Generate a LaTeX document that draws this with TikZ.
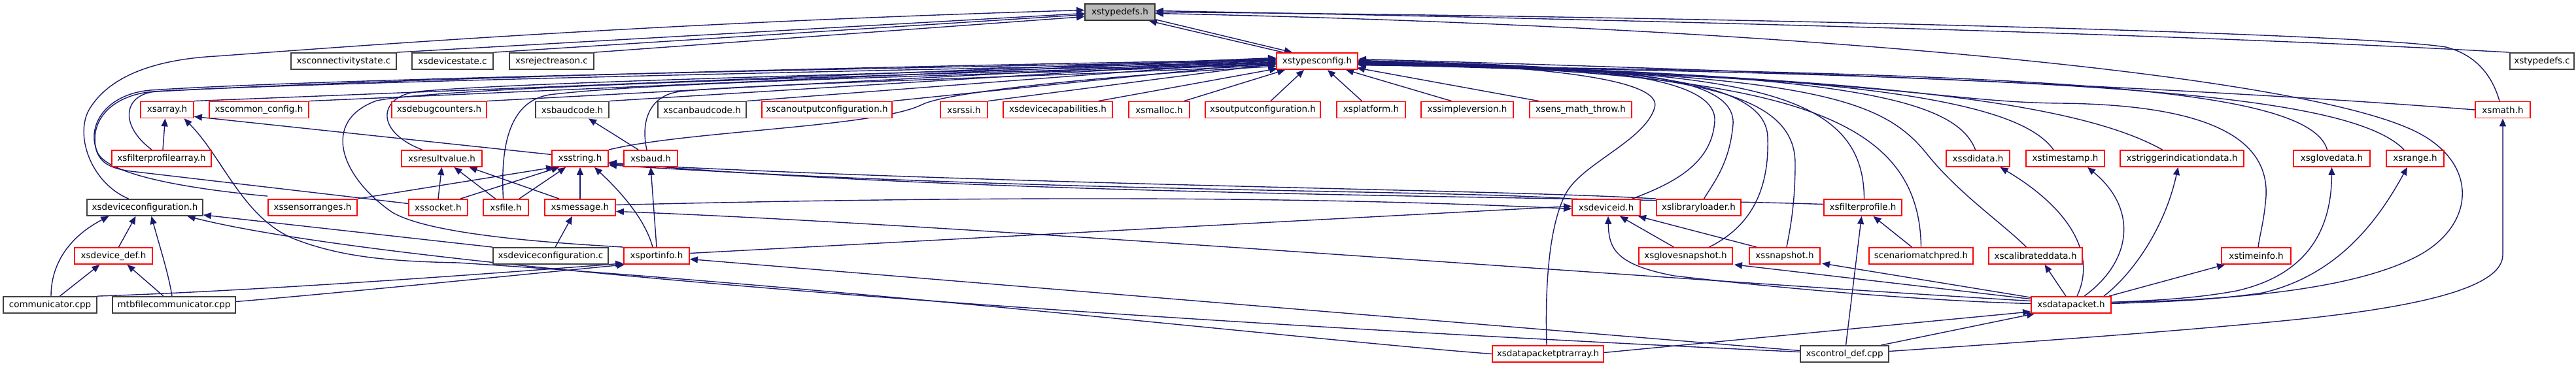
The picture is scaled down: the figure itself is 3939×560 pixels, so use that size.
\documentclass[tikz,border=0pt]{standalone}
\usepackage{fontspec}
\setmainfont{DejaVu Sans}
\usetikzlibrary{arrows.meta}
\definecolor{edgeblue}{HTML}{191970}
\definecolor{boxred}{HTML}{FF0000}
\newcommand\nodefont{\fontsize{6.75pt}{8pt}\selectfont}
\pgfdeclarelayer{bglayer}
\pgfdeclarelayer{edgelayer}
\pgfsetlayers{bglayer,edgelayer,main}
\tikzset{
  nb/.style={draw=boxred, line width=0.9pt, fill=white, minimum height=12.5pt, inner sep=0pt, font=\nodefont},
  kb/.style={nb, draw=black!75},
  gb/.style={nb, draw=black!80, fill=black!27},
  bw/.style={minimum width=#1*0.5pt},
  inc/.style={draw=edgeblue, line width=0.7pt, {Triangle[length=6pt,width=5pt]}-},
}
\begin{document}
\begin{tikzpicture}[x=0.5pt,y=-0.5pt]
\useasboundingbox (0,0) rectangle (3939,560);
\begin{pgfonlayer}{bglayer}
\fill[white] (0,0) rectangle (3939,560);
\end{pgfonlayer}
% row 1
\node[gb,bw=107] (TD) at (1712.5,18.5) {xstypedefs.h};
% row 2
\node[kb,bw=161] (cs) at (525.5,93.5) {xsconnectivitystate.c};
\node[kb,bw=124] (ds) at (692,93.5) {xsdevicestate.c};
\node[kb,bw=129] (rr) at (843.5,93.5) {xsrejectreason.c};
\node[nb,bw=124] (TC) at (2014,93.5) {xstypesconfig.h};
\node[kb,bw=98] (tdc) at (3887,93.5) {xstypedefs.c};
% row 3
\node[nb,bw=81] (arr) at (255.5,168) {xsarray.h};
\node[nb,bw=152] (cc) at (396,168) {xscommon\_config.h};
\node[nb,bw=145] (dbg) at (671.5,168) {xsdebugcounters.h};
\node[kb,bw=112] (bc) at (875,168) {xsbaudcode.h};
\node[kb,bw=135] (cbc) at (1073.5,168) {xscanbaudcode.h};
\node[nb,bw=199] (coc) at (1264.5,168) {xscanoutputconfiguration.h};
\node[nb,bw=72] (rssi) at (1474,168) {xsrssi.h};
\node[nb,bw=167] (dcap) at (1617.5,168) {xsdevicecapabilities.h};
\node[nb,bw=93] (mal) at (1772.5,168) {xsmalloc.h};
\node[nb,bw=176] (oc) at (1931,168) {xsoutputconfiguration.h};
\node[nb,bw=105] (plat) at (2096.5,168) {xsplatform.h};
\node[nb,bw=141] (sv) at (2243.5,168) {xssimpleversion.h};
\node[nb,bw=156] (emt) at (2417,168) {xsens\_math\_throw.h};
\node[nb,bw=84] (math) at (3827,168) {xsmath.h};
% row 4
\node[nb,bw=152] (fpa) at (247,242.5) {xsfilterprofilearray.h};
\node[nb,bw=123] (rv) at (675.5,242.5) {xsresultvalue.h};
\node[nb,bw=86] (str) at (887,242.5) {xsstring.h};
\node[nb,bw=82] (baud) at (995,242.5) {xsbaud.h};
\node[nb,bw=97] (sdi) at (3024.5,242.5) {xssdidata.h};
\node[nb,bw=120] (ts) at (3158,242.5) {xstimestamp.h};
\node[nb,bw=189] (trig) at (3336.5,242.5) {xstriggerindicationdata.h};
\node[nb,bw=117] (gd) at (3565.5,242.5) {xsglovedata.h};
\node[nb,bw=88] (rng) at (3693,242.5) {xsrange.h};
% row 5
\node[kb,bw=177] (dcfg) at (221.5,317.5) {xsdeviceconfiguration.h};
\node[nb,bw=136] (sr) at (478,317.5) {xssensorranges.h};
\node[nb,bw=90] (sock) at (670,317.5) {xssocket.h};
\node[nb,bw=69] (file) at (773.5,317.5) {xsfile.h};
\node[nb,bw=108] (msg) at (887,317.5) {xsmessage.h};
\node[nb,bw=104] (did) at (2456,317.5) {xsdeviceid.h};
\node[nb,bw=129] (ll) at (2597.5,317.5) {xslibraryloader.h};
\node[nb,bw=119] (fp) at (2848.5,317.5) {xsfilterprofile.h};
% row 6
\node[nb,bw=119] (ddef) at (173.5,391.5) {xsdevice\_def.h};
\node[kb,bw=176] (dcc) at (842,391.5) {xsdeviceconfiguration.c};
\node[nb,bw=100] (pi) at (1004,391.5) {xsportinfo.h};
\node[nb,bw=143] (gs) at (2577.5,391.5) {xsglovesnapshot.h};
\node[nb,bw=108] (snap) at (2729,391.5) {xssnapshot.h};
\node[nb,bw=159] (smp) at (2937.5,391.5) {scenariomatchpred.h};
\node[nb,bw=143] (cal) at (3112.5,391.5) {xscalibrateddata.h};
\node[nb,bw=106] (ti) at (3450,391.5) {xstimeinfo.h};
% row 7
\node[kb,bw=143] (comm) at (76.5,466.5) {communicator.cpp};
\node[kb,bw=188] (mtb) at (266,466.5) {mtbfilecommunicator.cpp};
\node[nb,bw=122] (dp) at (3167,466.5) {xsdatapacket.h};
% row 8
\node[nb,bw=170] (dpa) at (2367,541.5) {xsdatapacketptrarray.h};
\node[kb,bw=135] (ctl) at (2820.5,541.5) {xscontrol\_def.cpp};

\begin{pgfonlayer}{edgelayer}
% into xstypedefs.h
\draw[inc] ([shift={(0,2)}]TD.west) -- (cs.north east);
\draw[inc] ([shift={(0,4)}]TD.west) -- (ds.north east);
\draw[inc] ([shift={(0,7)}]TD.west) -- (rr.north east);
\draw[inc] ([shift={(0,-3)}]TD.west) .. controls (1000,35) and (550,70) .. (330,86) .. controls (220,92) and (160,125) .. (135,170) .. controls (115,210) and (140,280) .. ([shift={(-25,0)}]dcfg.north);
\draw[inc] ([shift={(-10,0)}]TD.south east) -- ([shift={(-52,0)}]TC.north);
\draw[inc] ([shift={(-38,0)}]TC.north) -- ([shift={(0,-2)}]TD.south east);
\draw[inc] ([shift={(0,-2)}]TD.east) .. controls (2400,28) and (3300,50) .. (tdc.north west);
\draw[inc] (TD.east) .. controls (2600,25) and (3600,50) .. (3740,72) .. controls (3790,85) and (3812,120) .. ([shift={(-5,0)}]math.north);
\draw[inc] ([shift={(0,2)}]TD.east) .. controls (2700,40) and (3480,110) .. (3680,195) .. controls (3790,240) and (3790,340) .. (3700,390) .. controls (3600,445) and (3400,460) .. ([shift={(0,-4)}]dp.east);
% into xstypesconfig.h from the left
\draw[inc] ([shift={(0,-5)}]TC.west) -- (arr.north east);
\draw[inc] ([shift={(0,-4)}]TC.west) -- (cc.north east);
\draw[inc] ([shift={(0,-3)}]TC.west) -- (dbg.north east);
\draw[inc] ([shift={(0,-2)}]TC.west) -- (bc.north east);
\draw[inc] ([shift={(0,-1)}]TC.west) -- (cbc.north east);
\draw[inc] ([shift={(0,1)}]TC.west) -- (coc.north east);
\draw[inc] ([shift={(0,4)}]TC.west) -- (rssi.north east);
\draw[inc] ([shift={(2,-2)}]TC.south west) -- ([shift={(62,0)}]dcap.north);
\draw[inc] ([shift={(14,0)}]TC.south west) -- ([shift={(38,0)}]mal.north);
\draw[inc] ([shift={(-20,0)}]TC.south) -- ([shift={(12,0)}]oc.north);
\draw[inc] ([shift={(16,0)}]TC.south) -- ([shift={(-14,0)}]plat.north);
\draw[inc] ([shift={(44,0)}]TC.south) -- ([shift={(-24,0)}]sv.north);
\draw[inc] ([shift={(-2,-3)}]TC.south east) -- ([shift={(-64,0)}]emt.north);
\draw[inc] ([shift={(0,-2)}]TC.west) .. controls (1400,100) and (600,120) .. (240,140) .. controls (190,143) and (180,190) .. ([shift={(-15,0)}]fpa.north);
\draw[inc] (TC.west) .. controls (1400,103) and (500,120) .. (230,138) .. controls (160,144) and (130,195) .. (150,235) .. controls (170,270) and (300,290) .. ([shift={(0,-4)}]sr.north west);
\draw[inc] ([shift={(0,2)}]TC.west) .. controls (1400,106) and (500,125) .. (235,140) .. controls (165,146) and (135,190) .. (148,232) .. controls (155,250) and (170,258) .. (200,262) -- ([shift={(0,-6)}]sock.west);
\draw[inc] ([shift={(0,3)}]TC.west) .. controls (1500,108) and (800,125) .. (640,140) .. controls (580,146) and (570,200) .. ([shift={(-30,0)}]rv.north);
\draw[inc] ([shift={(0,4)}]TC.west) .. controls (1500,112) and (700,130) .. (576,154) .. controls (490,185) and (520,270) .. (600,325) .. controls (660,360) and (850,372) .. (pi.north west);
\draw[inc] ([shift={(0,5)}]TC.west) .. controls (1500,115) and (1000,125) .. (840,145) .. controls (780,155) and (765,220) .. ([shift={(-4,0)}]file.north);
\draw[inc] ([shift={(0,6)}]TC.west) .. controls (1600,118) and (1150,128) .. (1040,140) .. controls (990,146) and (980,190) .. ([shift={(-6,0)}]baud.north);
\draw[inc] ([shift={(0,8)}]TC.west) .. controls (1700,115) and (1450,140) .. (1410,160) .. controls (1340,195) and (1050,200) .. (str.north east);
% into xstypesconfig.h from the right
\draw[inc] ([shift={(0,-3)}]TC.east) .. controls (2600,105) and (3300,130) .. (math.west);
\draw[inc] ([shift={(0,-1)}]TC.east) .. controls (2400,100) and (2625,110) .. (2622,185) .. controls (2618,250) and (2560,280) .. ([shift={(40,0)}]did.north);
\draw[inc] (TC.east) .. controls (2350,100) and (2545,120) .. (2530,165) .. controls (2515,215) and (2420,250) .. (2395,295) .. controls (2370,340) and (2362,430) .. ([shift={(-2,0)}]dpa.north);
\draw[inc] ([shift={(0,1)}]TC.east) .. controls (2450,102) and (2655,110) .. (2650,190) .. controls (2645,250) and (2620,280) .. ([shift={(8,0)}]ll.north);
\draw[inc] ([shift={(0,1)}]TC.east) .. controls (2500,104) and (2700,120) .. (2703,210) .. controls (2706,300) and (2670,350) .. ([shift={(36,0)}]gs.north);
\draw[inc] ([shift={(0,2)}]TC.east) .. controls (2550,106) and (2745,130) .. (2745,250) .. controls (2745,320) and (2735,360) .. ([shift={(3,0)}]snap.north);
\draw[inc] ([shift={(0,2)}]TC.east) .. controls (2650,108) and (2850,130) .. ([shift={(2,0)}]fp.north);
\draw[inc] ([shift={(0,3)}]TC.east) .. controls (2720,110) and (2935,170) .. (smp.north);
\draw[inc] ([shift={(0,3)}]TC.east) .. controls (2780,112) and (2880,150) .. (2950,240) .. controls (3000,300) and (3060,340) .. ([shift={(-14,0)}]cal.north);
\draw[inc] ([shift={(0,4)}]TC.east) .. controls (2820,110) and (2990,150) .. ([shift={(-4,0)}]sdi.north);
\draw[inc] ([shift={(0,4)}]TC.east) .. controls (2880,112) and (3090,160) .. ([shift={(-18,0)}]ts.north);
\draw[inc] ([shift={(0,5)}]TC.east) .. controls (2950,115) and (3200,170) .. ([shift={(-30,0)}]trig.north);
\draw[inc] ([shift={(0,5)}]TC.east) .. controls (2900,118) and (2960,156) .. (3150,158) .. controls (3350,160) and (3470,200) .. (3465,300) .. controls (3462,340) and (3455,360) .. ([shift={(3,0)}]ti.north);
\draw[inc] ([shift={(0,6)}]TC.east) .. controls (3100,112) and (3530,130) .. ([shift={(-7,0)}]gd.north);
\draw[inc] ([shift={(0,6)}]TC.east) .. controls (3150,116) and (3590,140) .. ([shift={(-17,0)}]rng.north);
% into xsstring.h
\draw[inc] ([shift={(4,0)}]str.south west) -- (sr.north east);
\draw[inc] ([shift={(12,0)}]str.south west) -- ([shift={(-12,0)}]sock.north east);
\draw[inc] ([shift={(22,0)}]str.south west) -- ([shift={(-15,0)}]file.north east);
\draw[inc] (str.south) -- (msg.north);
\draw[inc] ([shift={(22,0)}]str.south) .. controls (940,285) and (985,330) .. ([shift={(-6,0)}]pi.north);
\draw[inc] ([shift={(0,6)}]str.east) .. controls (1500,300) and (2400,300) .. ([shift={(0,-5)}]fp.west);
\draw[inc] ([shift={(0,8)}]str.east) .. controls (1600,285) and (2300,290) .. (ll.north west);
\draw[inc] ([shift={(0,10)}]str.east) .. controls (1600,295) and (2200,290) .. (did.north west);
% into xsarray.h
\draw[inc] ([shift={(0,-3)}]arr.south east) -- ([shift={(0,-6)}]str.west);
\draw[inc] ([shift={(-3,0)}]arr.south) -- ([shift={(2,0)}]fpa.north);
\draw[inc] ([shift={(26,0)}]arr.south) .. controls (340,240) and (370,330) .. (446,364) .. controls (520,394) and (600,400) .. (700,402) .. controls (1300,440) and (2000,520) .. (dpa.west);
% into xsresultvalue.h
\draw[inc] (rv.south) -- (sock.north);
\draw[inc] ([shift={(19,0)}]rv.south) -- ([shift={(-16,0)}]file.north);
\draw[inc] ([shift={(42,0)}]rv.south) -- ([shift={(-32,0)}]msg.north);
% xsbaudcode.h, xsbaud.h
\draw[inc] ([shift={(25,0)}]bc.south) -- ([shift={(-19,0)}]baud.north);
\draw[inc] (baud.south) -- (pi.north);
% xsmessage.h
\draw[inc] ([shift={(-12,0)}]msg.south) -- ([shift={(7,0)}]dcc.north);
\draw[inc] ([shift={(0,6)}]msg.east) .. controls (1500,345) and (2500,425) .. ([shift={(0,-6)}]dp.west);
% xsdeviceconfiguration.h
\draw[inc] ([shift={(-14,0)}]dcfg.south) -- ([shift={(8,0)}]ddef.north);
\draw[inc] ([shift={(-55,0)}]dcfg.south) .. controls (110,360) and (78,400) .. ([shift={(1.5,0)}]comm.north);
\draw[inc] ([shift={(10,0)}]dcfg.south) .. controls (245,380) and (258,420) .. ([shift={(-3,0)}]mtb.north);
\draw[inc] ([shift={(0,-2)}]dcfg.south east) -- (dcc.north west);
\draw[inc] ([shift={(65,0)}]dcfg.south) .. controls (600,410) and (1700,490) .. ([shift={(0,-3)}]ctl.west);
% xsdevice_def.h
\draw[inc] ([shift={(-21,0)}]ddef.south) -- ([shift={(15,0)}]comm.north);
\draw[inc] ([shift={(21,0)}]ddef.south) -- ([shift={(-16,0)}]mtb.north);
% xsportinfo.h
\draw[inc] ([shift={(0,-2)}]pi.south west) .. controls (800,415) and (400,445) .. (comm.north east);
\draw[inc] ([shift={(2,0)}]pi.south west) .. controls (800,420) and (500,450) .. ([shift={(0,-5)}]mtb.east);
\draw[inc] ([shift={(0,5)}]pi.east) -- ([shift={(0,-5)}]ctl.west);
% xsdeviceid.h
\draw[inc] ([shift={(0,-2)}]did.west) -- ([shift={(0,-4)}]pi.east);
\draw[inc] ([shift={(0,2)}]did.west) .. controls (2000,300) and (1500,300) .. ([shift={(0,-4)}]msg.east);
\draw[inc] ([shift={(21,0)}]did.south) -- ([shift={(-18,0)}]gs.north);
\draw[inc] ([shift={(49,0)}]did.south) -- ([shift={(-43,0)}]snap.north);
\draw[inc] ([shift={(3,0)}]did.south) .. controls (2460,380) and (2470,405) .. (2560,422) .. controls (2800,450) and (3000,462) .. ([shift={(0,-2)}]dp.west);
% xsfilterprofile.h
\draw[inc] ([shift={(16,0)}]fp.south) -- ([shift={(-14,0)}]smp.north);
\draw[inc] ([shift={(-2,0)}]fp.south) -- ([shift={(2,0)}]ctl.north);
% xsdatapacket.h
\draw[inc] ([shift={(0,-3)}]dp.south west) -- ([shift={(0,-2)}]dpa.east);
\draw[inc] ([shift={(6,0)}]dp.south west) -- ([shift={(56,0)}]ctl.north);
% included by xsdatapacket.h
\draw[inc] ([shift={(2,0)}]gs.south east) -- ([shift={(0,-9)}]dp.west);
\draw[inc] ([shift={(2,-2)}]snap.south east) -- ([shift={(0,2)}]dp.north west);
\draw[inc] ([shift={(14,0)}]cal.south) -- ([shift={(-8,0)}]dp.north);
\draw[inc] ([shift={(34,0)}]sdi.south) .. controls (3150,310) and (3210,380) .. ([shift={(9,0)}]dp.north);
\draw[inc] ([shift={(34,0)}]ts.south) .. controls (3270,320) and (3260,400) .. ([shift={(20,0)}]dp.north);
\draw[inc] ([shift={(-6,0)}]trig.south) .. controls (3310,350) and (3260,420) .. ([shift={(-12,0)}]dp.north east);
\draw[inc] ([shift={(6,0)}]ti.south west) -- ([shift={(-4,0)}]dp.north east);
\draw[inc] (gd.south) .. controls (3565,350) and (3530,420) .. (3420,445) .. controls (3350,458) and (3280,460) .. ([shift={(0,-4)}]dp.east);
\draw[inc] ([shift={(-12,0)}]rng.south) .. controls (3640,330) and (3580,420) .. (3460,448) .. controls (3380,460) and (3300,462) .. ([shift={(0,-2)}]dp.east);
% xsmath.h from xscontrol_def.cpp
\draw[inc] (math.south) -- (3827,390) .. controls (3827,440) and (3700,470) .. (3500,490) .. controls (3300,510) and (3000,530) .. ([shift={(0,-4)}]ctl.east);
\end{pgfonlayer}
\end{tikzpicture}
\end{document}
